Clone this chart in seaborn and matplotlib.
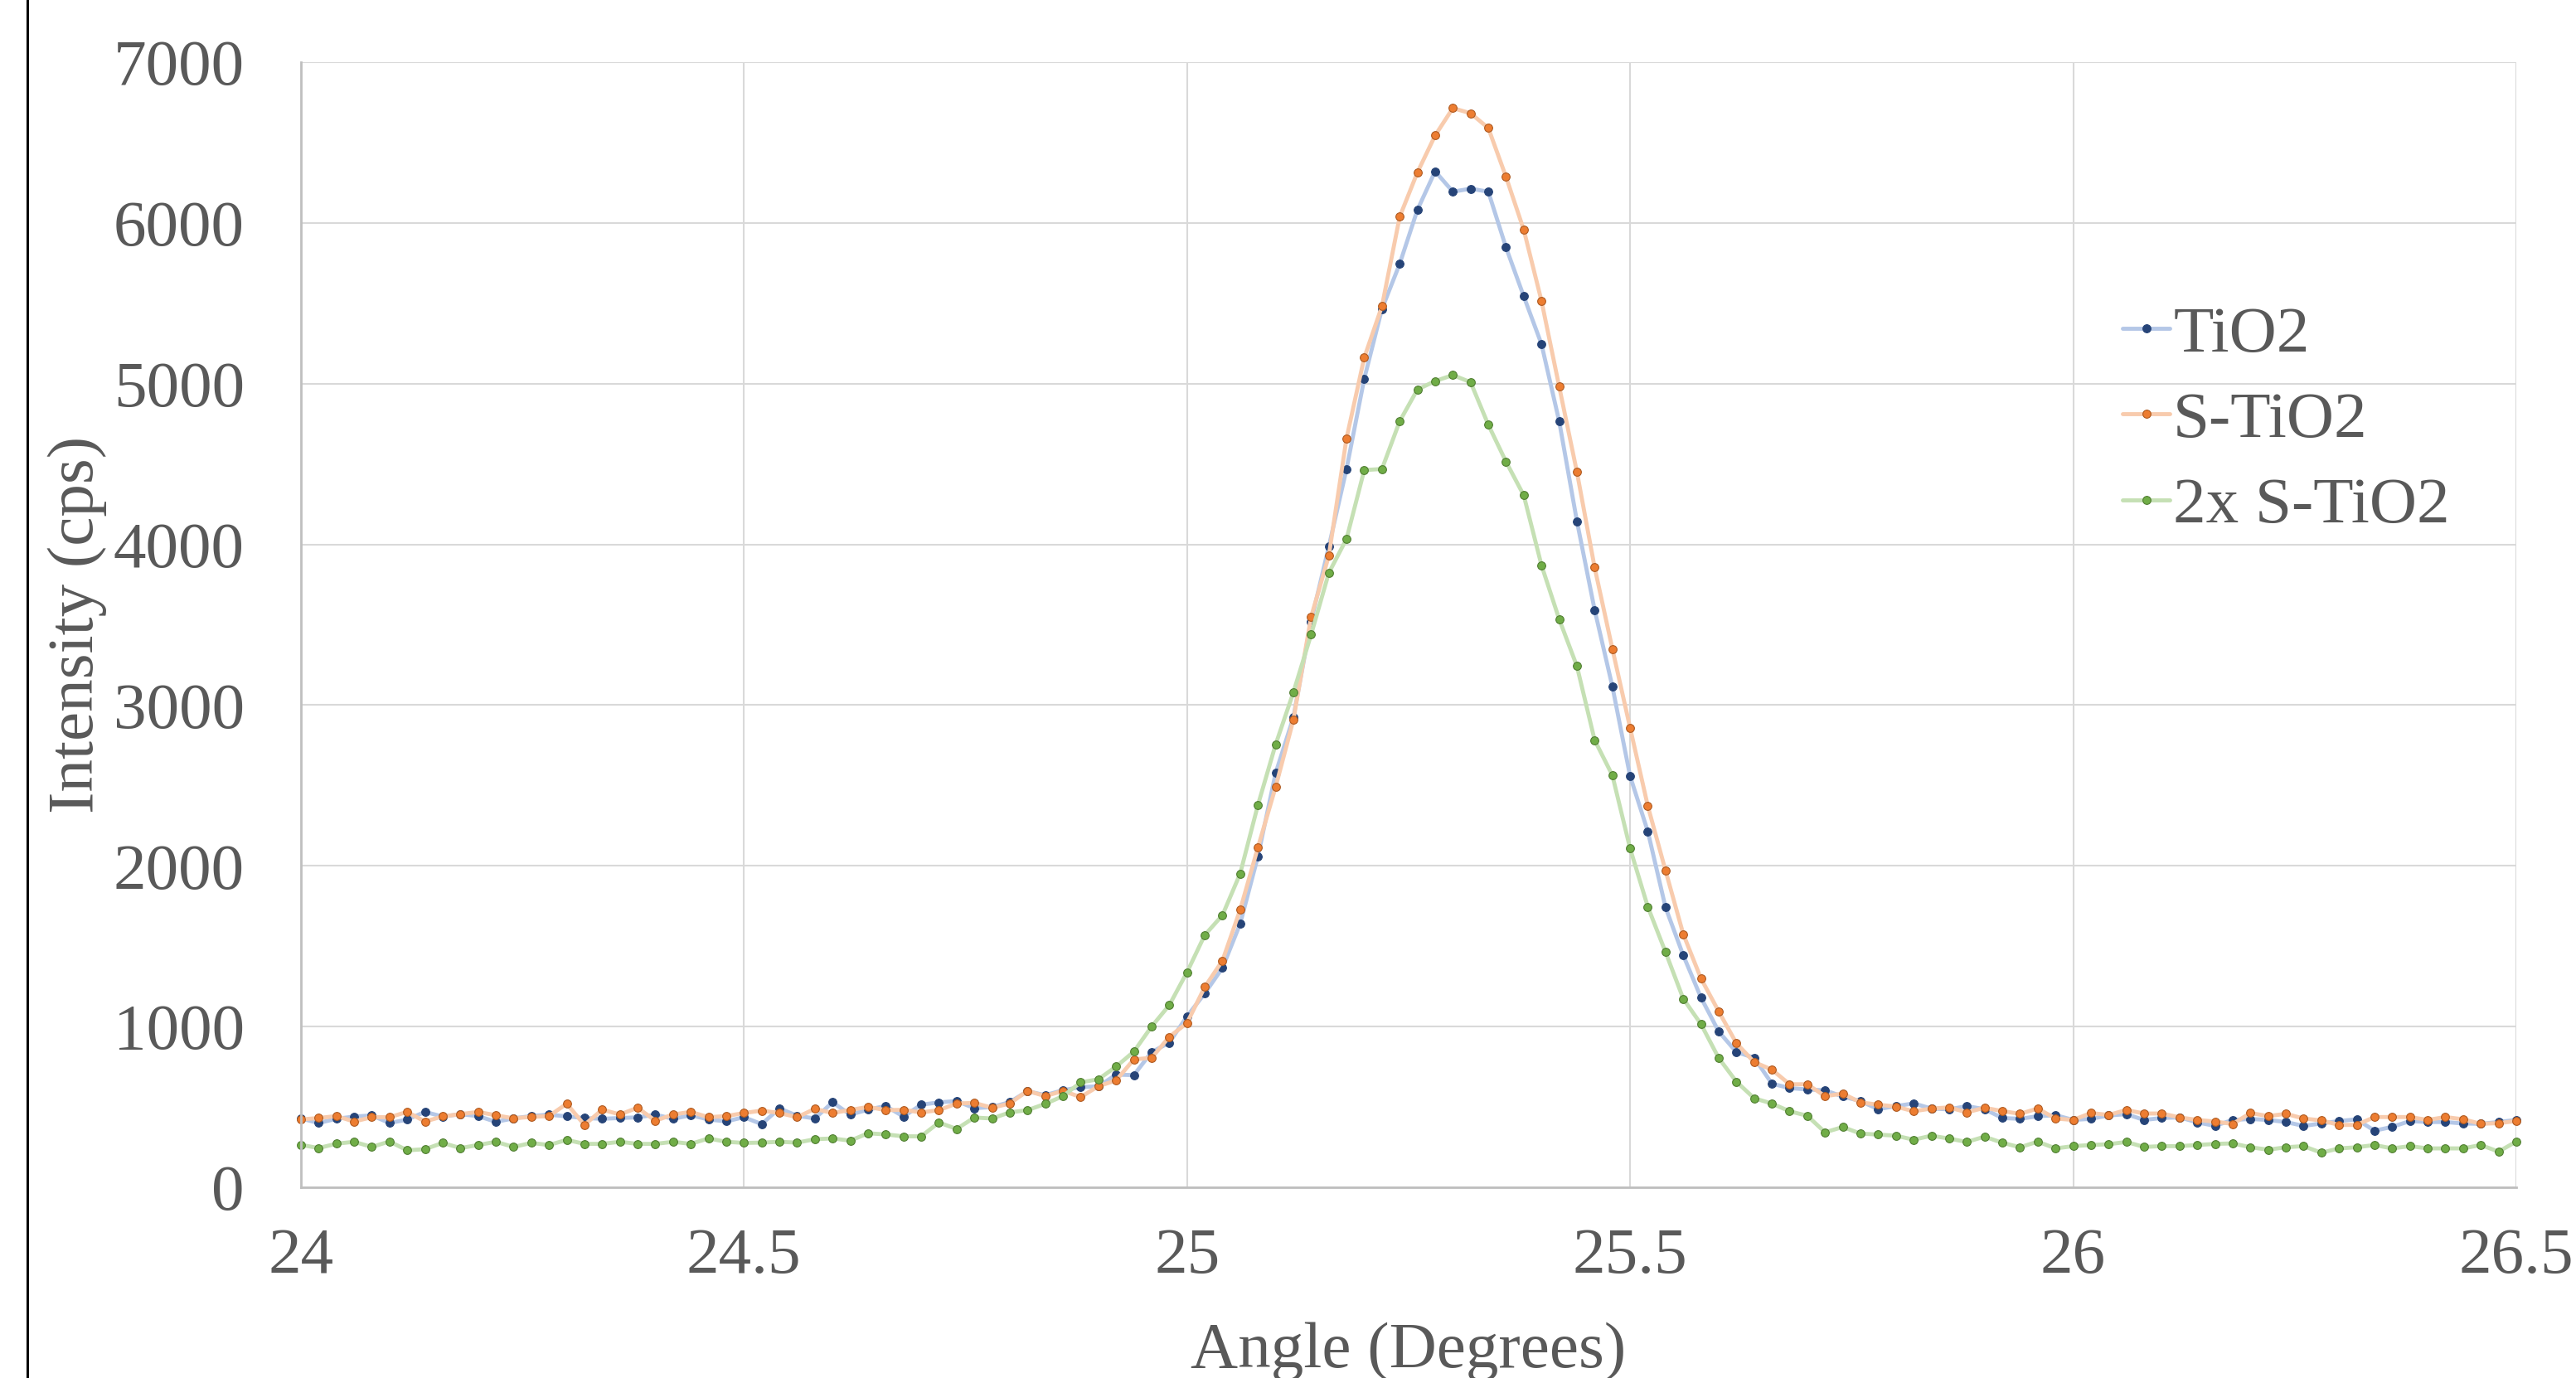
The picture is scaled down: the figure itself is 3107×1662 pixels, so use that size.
import numpy as np
import matplotlib
matplotlib.use('Agg')
import matplotlib.pyplot as plt
from matplotlib.lines import Line2D
import seaborn as sns

# XRD scan, 24 - 26.5 deg, step 0.02 deg (126 points per sample)
angle = np.round(np.arange(126) * 0.02 + 24, 2)

tio2 = [428, 400, 426, 440, 447, 400, 421, 469, 440, 455, 443, 407, 429, 443, 452, 441,
        431, 426, 431, 435, 452, 426, 448, 422, 410, 436, 393, 491, 445, 428, 529, 452,
        483, 506, 440, 514, 528, 537, 492, 499, 530, 598, 573, 604, 623, 628, 701, 698,
        841, 900, 1064, 1206, 1365, 1640, 2058, 2577, 2923, 3520, 3986, 4469, 5030, 5465,
        5745, 6081, 6321, 6194, 6213, 6194, 5847, 5543, 5246, 4765, 4144, 3592, 3116, 2558,
        2214, 1741, 1443, 1180, 969, 841, 806, 645, 617, 609, 603, 565, 536, 486, 505, 522,
        490, 485, 505, 486, 431, 426, 442, 449, 419, 426, 447, 455, 419, 431, 435, 404,
        382, 419, 425, 419, 406, 382, 397, 412, 423, 352, 376, 412, 406, 406, 397, 395,
        406, 419]

s_tio2 = [422, 431, 443, 409, 436, 436, 469, 409, 441, 455, 469, 448, 429, 438, 443, 520,
          388, 483, 453, 495, 414, 453, 469, 436, 443, 462, 477, 462, 436, 488, 462, 481,
          500, 480, 482, 466, 480, 521, 525, 495, 521, 600, 567, 600, 561, 629, 665, 796,
          805, 936, 1022, 1246, 1410, 1727, 2114, 2491, 2907, 3548, 3928, 4660, 5162, 5482,
          6038, 6314, 6544, 6714, 6682, 6590, 6286, 5957, 5515, 4981, 4450, 3856, 3350, 2859,
          2372, 1970, 1575, 1299, 1094, 896, 779, 732, 641, 641, 567, 583, 528, 514, 502, 473,
          490, 497, 466, 495, 474, 457, 490, 428, 419, 462, 450, 481, 459, 459, 435, 419,
          409, 394, 462, 443, 457, 428, 416, 388, 388, 437, 437, 437, 419, 437, 423, 395,
          399, 412]

s_tio2_2x = [264, 244, 271, 283, 251, 285, 230, 237, 276, 244, 263, 283, 251, 276, 263, 295,
             270, 270, 283, 270, 270, 283, 270, 304, 283, 276, 278, 283, 278, 299, 304, 290,
             336, 329, 317, 317, 403, 363, 434, 428, 466, 480, 519, 567, 653, 672, 751, 844,
             1000, 1133, 1338, 1569, 1693, 1952, 2378, 2755, 3079, 3438, 3822, 4034, 4462, 4469,
             4766, 4963, 5016, 5053, 5009, 4744, 4514, 4305, 3870, 3534, 3242, 2782, 2563, 2108,
             1745, 1463, 1173, 1015, 804, 657, 554, 521, 473, 445, 342, 375, 334, 328, 321, 296,
             321, 303, 282, 315, 277, 249, 284, 242, 256, 263, 268, 282, 251, 256, 256, 263,
             270, 273, 249, 234, 249, 256, 215, 242, 249, 263, 242, 256, 242, 242, 242, 263,
             222, 284]

series_names = ['TiO2', 'S-TiO2', '2x S-TiO2']
xticks = [24, 24.5, 25, 25.5, 26, 26.5]
xtick_labels = ['24', '24.5', '25', '25.5', '26', '26.5']
yticks = [0, 1000, 2000, 3000, 4000, 5000, 6000, 7000]

sns.set_style('whitegrid', {'grid.color': '#D9D9D9'})
plt.rcParams['font.family'] = ['Liberation Serif', 'DejaVu Serif']
txt = '#595959'
fs = 57

fig = plt.figure(figsize=(31.07, 16.62), dpi=100)
ax = fig.add_axes([0.1168, 0.1384, 0.86, 0.8165])

# line colour, marker face, marker edge
styles = [('#B4C7E7', '#264478', '#264478'),
          ('#F8CBAD', '#ED7D31', '#AE5A21'),
          ('#C5E0B4', '#70AD47', '#507E32')]
for name, vals, (lc, mfc, mec) in zip(series_names, [tio2, s_tio2, s_tio2_2x], styles):
    sns.lineplot(x=angle, y=vals, ax=ax, color=lc, lw=3.5, marker='o', ms=7,
                 mfc=mfc, mec=mec, mew=0.8, label=name, errorbar=None, clip_on=False)

ax.set_xlim(24, 26.5)
ax.set_ylim(0, 7000)
ax.set_xticks(xticks)
ax.set_xticklabels(xtick_labels)
ax.set_yticks(yticks)
ax.grid(True, color='#D9D9D9', lw=1.5)
ax.tick_params(axis='both', length=0, labelsize=fs, labelcolor=txt)
ax.tick_params(axis='y', pad=49)
ax.tick_params(axis='x', pad=35)
for s in ['top', 'right']:
    ax.spines[s].set_visible(False)
for s in ['left', 'bottom']:
    ax.spines[s].set_color('#BFBFBF')
    ax.spines[s].set_linewidth(2)

ax.set_xlabel('Angle (Degrees)', fontsize=fs, color=txt, va='center')
ax.xaxis.set_label_coords(0.5, -0.146)
ax.set_ylabel('Intensity (cps)', fontsize=fs, color=txt, va='center')
ax.yaxis.set_label_coords(-0.101, 0.5)

ax.legend(loc='center left', bbox_to_anchor=(0.824, 0.6944), bbox_transform=fig.transFigure,
          frameon=False, fontsize=fs, handlelength=0.72, handletextpad=0.05,
          labelspacing=0.39, borderpad=0, borderaxespad=0, labelcolor=txt)

# black frame edge at the left of the picture
fig.add_artist(Line2D([33 / 3107] * 2, [0, 1], transform=fig.transFigure, color='black', lw=2.2))

fig.savefig('out.png', dpi=100)
